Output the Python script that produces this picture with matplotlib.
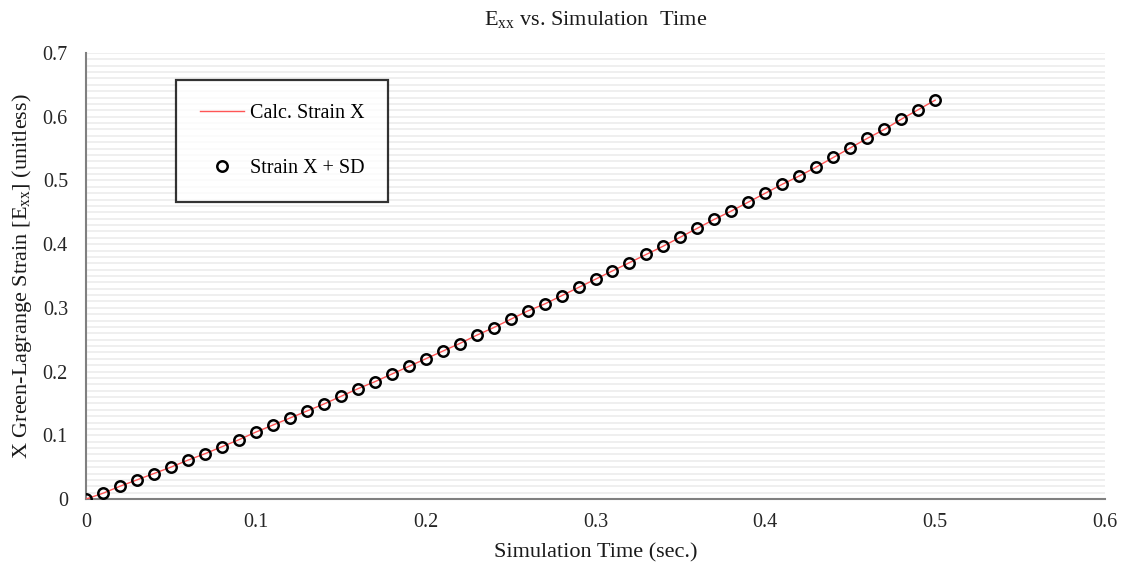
import matplotlib
matplotlib.use("Agg")
import matplotlib.pyplot as plt
import matplotlib.ticker as ticker

plt.rcParams['font.family'] = ['Liberation Serif', 'DejaVu Serif']
plt.rcParams['mathtext.fontset'] = 'custom'
plt.rcParams['mathtext.rm'] = 'Liberation Serif'
plt.rcParams['mathtext.it'] = 'Liberation Serif:italic'

# simulation time (sec.)
time = [0.00, 0.01, 0.02, 0.03, 0.04, 0.05, 0.06, 0.07, 0.08, 0.09,
        0.10, 0.11, 0.12, 0.13, 0.14, 0.15, 0.16, 0.17, 0.18, 0.19,
        0.20, 0.21, 0.22, 0.23, 0.24, 0.25, 0.26, 0.27, 0.28, 0.29,
        0.30, 0.31, 0.32, 0.33, 0.34, 0.35, 0.36, 0.37, 0.38, 0.39,
        0.40, 0.41, 0.42, 0.43, 0.44, 0.45, 0.46, 0.47, 0.48, 0.49, 0.50]

# calculated strain X (line)
calc_strain = [0.000, 0.009, 0.020, 0.030, 0.040, 0.050, 0.061, 0.071, 0.082, 0.093,
               0.105, 0.116, 0.127, 0.138, 0.149, 0.161, 0.173, 0.184, 0.196, 0.208,
               0.220, 0.232, 0.244, 0.257, 0.269, 0.282, 0.295, 0.306, 0.319, 0.332,
               0.345, 0.358, 0.371, 0.384, 0.397, 0.411, 0.425, 0.439, 0.452, 0.466,
               0.480, 0.494, 0.507, 0.521, 0.536, 0.551, 0.566, 0.580, 0.596, 0.611, 0.626]

# strain X + SD (markers)
strain_sd = [0.000, 0.009, 0.020, 0.030, 0.040, 0.050, 0.061, 0.071, 0.082, 0.093,
             0.105, 0.116, 0.127, 0.138, 0.149, 0.161, 0.173, 0.184, 0.196, 0.208,
             0.220, 0.232, 0.244, 0.257, 0.269, 0.282, 0.295, 0.306, 0.319, 0.332,
             0.345, 0.358, 0.371, 0.384, 0.397, 0.411, 0.425, 0.439, 0.452, 0.466,
             0.480, 0.494, 0.507, 0.521, 0.536, 0.551, 0.566, 0.580, 0.596, 0.611, 0.626]

fig = plt.figure(figsize=(11.28, 5.66), dpi=100)
ax = fig.add_axes([86/1128, 1 - 499/566, (1105 - 86)/1128, (499 - 53)/566])

ax.plot(time, calc_strain, color='#ff5555', lw=1.0, label='Calc. Strain X', zorder=3)
ax.plot(time, strain_sd, ls='none', marker='o', ms=7.5, mfc='none', mec='black',
        mew=1.8, label='Strain X + SD', zorder=4)

ax.set_xlim(0, 0.6)
ax.set_ylim(0, 0.7)
ax.xaxis.set_major_locator(ticker.MultipleLocator(0.1))
ax.yaxis.set_major_locator(ticker.MultipleLocator(0.1))
ax.yaxis.set_minor_locator(ticker.MultipleLocator(0.01))
fmt = ticker.FuncFormatter(lambda v, p: '0' if abs(v) < 1e-9 else '%g' % round(v, 2))
ax.xaxis.set_major_formatter(fmt)
ax.yaxis.set_major_formatter(fmt)
ax.grid(axis='y', which='both', color='#eeeeee', lw=1.3, zorder=0)
ax.set_axisbelow(True)
ax.tick_params(which='both', length=0, labelsize=14.5, colors='#262626')
ax.tick_params(axis='x', pad=10)
ax.tick_params(axis='y', pad=13)

for s in ['top', 'right']:
    ax.spines[s].set_visible(False)
for s in ['left', 'bottom']:
    ax.spines[s].set_color('#808080')
    ax.spines[s].set_linewidth(1.5)

ax.set_title(r'E$_{\mathregular{xx}}$ vs. Simulation  Time', fontsize=16, color='#1a1a1a', pad=20)
ax.set_xlabel('Simulation Time (sec.)', fontsize=16, color='#1a1a1a', labelpad=8)
ax.set_ylabel(r'X Green-Lagrange Strain [E$_{\mathregular{xx}}$] (unitless)', fontsize=16,
              color='#1a1a1a', labelpad=6)

leg = ax.legend(loc='upper left', bbox_to_anchor=(176/1128, 1 - 80/566),
                bbox_transform=fig.transFigure, fontsize=14.5, frameon=True,
                fancybox=False, borderpad=1.2, labelspacing=1.75,
                handlelength=2.2, handletextpad=0.25, borderaxespad=0)
leg.get_frame().set_edgecolor('black')
leg.get_frame().set_linewidth(1.6)

fig.savefig('out.png', dpi=100)
